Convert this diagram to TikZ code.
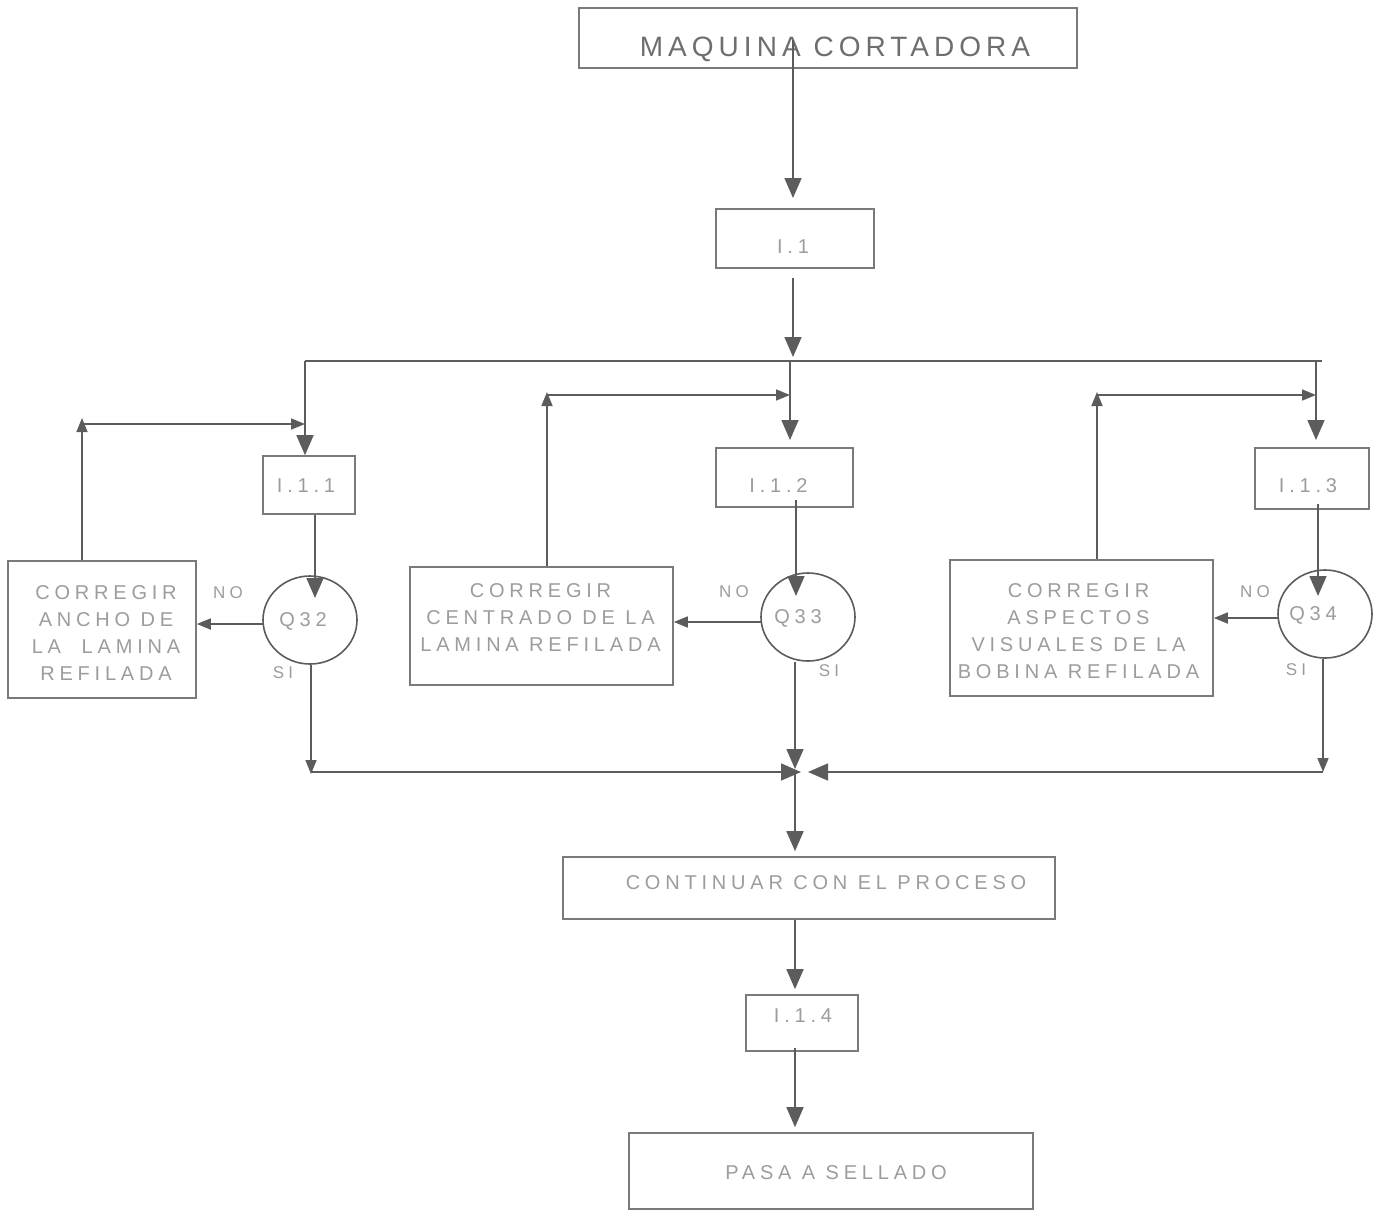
\documentclass[tikz,border=0pt]{standalone}
\usepackage{fontspec}
\setmainfont{Liberation Sans}
\newfontfamily\widefont[LetterSpace=24]{Liberation Sans}
\newfontfamily\titlefont[LetterSpace=18]{Liberation Sans}
\usetikzlibrary{arrows.meta,shapes.geometric}
\definecolor{linegray}{HTML}{5C5C5C}
\definecolor{boxgray}{HTML}{7A7A7A}
\definecolor{txtgray}{HTML}{9C9C9C}
\definecolor{titlegray}{HTML}{6E6E6E}
\newcommand\boxfont{\widefont\fontsize{20}{27}\selectfont}
\newcommand\labfont{\widefont\fontsize{17}{20}\selectfont}
\tikzset{
  flowbox/.style={draw=boxgray, line width=1.6pt, rectangle, inner sep=0pt},
  boxtext/.style={text=txtgray, font=\boxfont, align=center, inner sep=0pt},
  decision/.style={draw=linegray, line width=1.6pt, ellipse, inner sep=0pt,
    minimum width=94pt, minimum height=88pt, text=txtgray, font=\boxfont,
    text depth=0pt},
  tag/.style={text=txtgray, font=\labfont, inner sep=0pt},
  ln/.style={draw=linegray, line width=1.6pt},
  big/.style={ln, -{Triangle[length=20pt,width=17pt]}},
  sm/.style={ln, -{Triangle[length=14pt,width=11pt]}},
}
\begin{document}
\begin{tikzpicture}[x=1pt,y=-1pt]
\useasboundingbox (0,0) rectangle (1374,1211);

% process boxes
\node[flowbox, minimum width=498pt, minimum height=60pt] (mc) at (828,38) {};
\node[flowbox, minimum width=158pt, minimum height=59pt] (i1) at (795,238.5) {};
\node[flowbox, minimum width=92pt, minimum height=58pt] (i11) at (309,485) {};
\node[flowbox, minimum width=137pt, minimum height=59pt] (i12) at (784.5,477.5) {};
\node[flowbox, minimum width=114pt, minimum height=61pt] (i13) at (1312,478.5) {};
\node[flowbox, minimum width=188pt, minimum height=137pt] (c1) at (102,629.5) {};
\node[flowbox, minimum width=263pt, minimum height=118pt] (c2) at (541.5,626) {};
\node[flowbox, minimum width=263pt, minimum height=136pt] (c3) at (1081.5,628) {};
\node[flowbox, minimum width=492pt, minimum height=62pt] (cont) at (809,888) {};
\node[flowbox, minimum width=112pt, minimum height=56pt] (i14) at (802,1023) {};
\node[flowbox, minimum width=404pt, minimum height=76pt] (pasa) at (831,1171) {};

% box captions
\node[boxtext, text=titlegray, text depth=0pt,
  font=\titlefont\fontsize{28}{32}\selectfont] (mct) at ([shift={(7,9)}]mc.center)
  {MAQUINA CORTADORA};
\node[boxtext] (i1t) at ([shift={(-2,8)}]i1.center) {I.1};
\node[boxtext] (i11t) at ([shift={(-3,1)}]i11.center) {I.1.1};
\node[boxtext] (i12t) at ([shift={(-6,8)}]i12.center) {I.1.2};
\node[boxtext] (i13t) at ([shift={(-4,7)}]i13.center) {I.1.3};
\node[boxtext] (c1t) at ([shift={(4,4)}]c1.center)
  {CORREGIR\\ANCHO DE\\LA \ LAMINA\\REFILADA};
\node[boxtext] (c2t) at ([shift={(-1,-8)}]c2.center)
  {CORREGIR\\CENTRADO DE LA\\LAMINA REFILADA};
\node[boxtext] (c3t) at ([shift={(-3,3)}]c3.center)
  {CORREGIR\\ASPECTOS\\VISUALES DE LA\\BOBINA REFILADA};
\node[boxtext] (contt) at ([shift={(17,-5)}]cont.center) {CONTINUAR CON EL PROCESO};
\node[boxtext] (i14t) at ([shift={(1,-7)}]i14.center) {I.1.4};
\node[boxtext] (pasat) at ([shift={(5,2)}]pasa.center) {PASA A SELLADO};

% decisions
\node[decision] (q32) at (310,620) {\hspace*{-14pt}Q32};
\node[decision] (q33) at (808,617) {\hspace*{-20pt}Q33};
\node[decision] (q34) at (1325,614) {\hspace*{-24pt}Q34};

% branch labels
\node[tag] (no1) at (228,593) {NO};
\node[tag] (si1) at (283,673) {SI};
\node[tag] (no2) at (734,592) {NO};
\node[tag] (si2) at (829,671) {SI};
\node[tag] (no3) at (1255,592) {NO};
\node[tag] (si3) at (1296,670) {SI};

% main trunk
\coordinate (t0) at (793,40);
\coordinate (t1) at (793,198);
\coordinate (t2) at (793,278);
\coordinate (t3) at (793,357);
\draw[big] (t0) -- (t1);
\draw[big] (t2) -- (t3);

% distribution line
\coordinate (bl) at (305,361);
\coordinate (br) at (1322,361);
\coordinate (bm) at (790,361);
\coordinate (bmd) at (790,440);
\coordinate (bR) at (1316,361);
\coordinate (bRd) at (1316,440);
\draw[ln] (bl) -- (br);
\draw[big] (bl) -- (bl |- i11.north);
\draw[big] (bm) -- (bmd);
\draw[big] (bR) -- (bRd);

% return paths from the correction boxes
\coordinate (f1) at (82,424);
\coordinate (f1t) at (82,418);
\coordinate (f1e) at (305,424);
\draw[sm] (f1 |- c1.north) -- (f1t);
\draw[sm] (f1) -- (f1e);
\coordinate (f2) at (547,395);
\coordinate (f2t) at (547,392);
\coordinate (f2e) at (790,395);
\draw[sm] (f2 |- c2.north) -- (f2t);
\draw[sm] (f2) -- (f2e);
\coordinate (f3) at (1097,395);
\coordinate (f3t) at (1097,392);
\coordinate (f3e) at (1316,395);
\draw[sm] (f3 |- c3.north) -- (f3t);
\draw[sm] (f3) -- (f3e);

% inspections into decisions
\coordinate (d1) at (315,598);
\coordinate (d2) at (796,596);
\coordinate (d3) at (1318,596);
\draw[big] (d1 |- i11.south) -- (d1);
\draw[big] ([yshift=8pt]d2 |- i12.south) -- (d2);
\draw[big] ([yshift=6pt]d3 |- i13.south) -- (d3);

% NO branches
\coordinate (n1) at (264,624);
\coordinate (n2) at (762,622);
\coordinate (n3) at (1278,618);
\draw[sm] (n1) -- (n1 -| c1.east);
\draw[sm] (n2) -- (n2 -| c2.east);
\draw[sm] (n3) -- (n3 -| c3.east);

% SI branches and merge
\coordinate (s1) at (311,774);
\coordinate (s1h) at (311,772);
\coordinate (jn) at (795,772);
\coordinate (jnr) at (801,772);
\coordinate (s3) at (1323,772);
\coordinate (jr) at (808,772);
\draw[sm] (s1 |- q32.south) -- (s1);
\draw[big] (s1h) -- (jnr);
\draw[big] (jn |- q33.south) -- ([yshift=3pt]jn);
\draw[sm] (s3 |- q34.south) -- (s3);
\draw[big] (s3) -- (jr);

% final sequence
\draw[big, shorten >=5pt] (jn) -- (jn |- cont.north);
\draw[big, shorten >=5pt] (jn |- cont.south) -- (jn |- i14.north);
\draw[big, shorten >=5pt] ([yshift=4pt]jn |- i14.south) -- (jn |- pasa.north);
\end{tikzpicture}
\end{document}
